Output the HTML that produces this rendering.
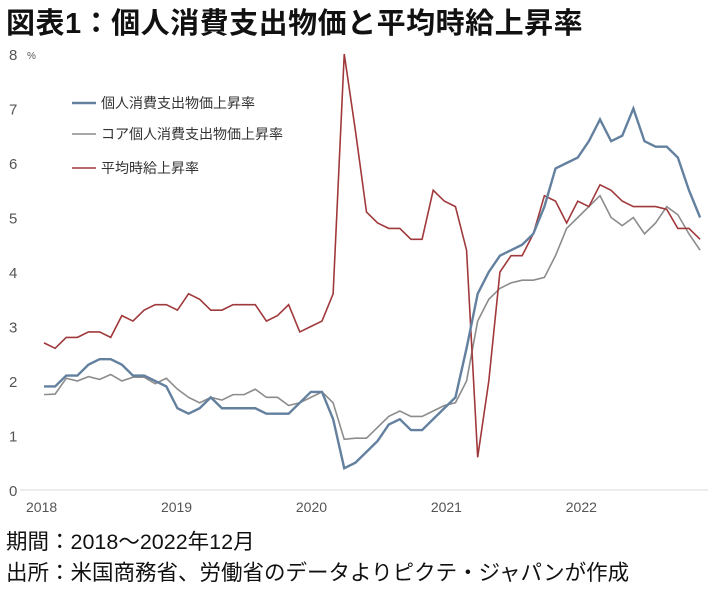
<!DOCTYPE html>
<html><head><meta charset="utf-8">
<style>
body{margin:0;background:#fff;width:728px;height:591px;overflow:hidden;font-family:"Liberation Sans","Noto Sans CJK JP",sans-serif;}
#title{position:absolute;left:6px;top:0px;font-size:29px;font-weight:bold;color:#111;letter-spacing:0.5px;}
.foot{position:absolute;left:6px;font-size:21.5px;color:#111;}
svg{position:absolute;left:0;top:0;}
</style></head><body>
<div id="title">図表1：個人消費支出物価と平均時給上昇率</div>
<svg id="chart" width="728" height="591"></svg>
<div class="foot" style="top:525px">期間：2018～2022年12月</div>
<div class="foot" style="top:556px">出所：米国商務省、労働省のデータよりピクテ・ジャパンが作成</div>
<script>
const yTicks=[0,1,2,3,4,5,6,7,8];
const xTickLabels=["2018","2019","2020","2021","2022"];
const seriesNames=["個人消費支出物価上昇率","コア個人消費支出物価上昇率","平均時給上昇率"];
const pce=[1.9,1.9,2.1,2.1,2.3,2.4,2.4,2.3,2.1,2.1,2.0,1.9,
1.5,1.4,1.5,1.7,1.5,1.5,1.5,1.5,1.4,1.4,1.4,1.6,
1.8,1.8,1.3,0.4,0.5,0.7,0.9,1.2,1.3,1.1,1.1,1.3,
1.5,1.7,2.6,3.6,4.0,4.3,4.4,4.5,4.7,5.2,5.9,6.0,
6.1,6.4,6.8,6.4,6.5,7.0,6.4,6.3,6.3,6.1,5.5,5.0];
const corePce=[1.75,1.76,2.05,2.0,2.08,2.03,2.12,2.0,2.07,2.07,1.95,2.05,
1.85,1.7,1.6,1.7,1.65,1.75,1.75,1.85,1.7,1.7,1.55,1.6,
1.7,1.8,1.6,0.93,0.95,0.95,1.15,1.35,1.45,1.35,1.35,1.45,
1.55,1.6,2.0,3.1,3.5,3.7,3.8,3.85,3.85,3.9,4.3,4.8,
5.0,5.2,5.4,5.0,4.85,5.0,4.7,4.9,5.2,5.05,4.7,4.4];
const wages=[2.7,2.6,2.8,2.8,2.9,2.9,2.8,3.2,3.1,3.3,3.4,3.4,
3.3,3.6,3.5,3.3,3.3,3.4,3.4,3.4,3.1,3.2,3.4,2.9,
3.0,3.1,3.6,8.0,6.6,5.1,4.9,4.8,4.8,4.6,4.6,5.5,
5.3,5.2,4.4,0.6,2.0,4.0,4.3,4.3,4.7,5.4,5.3,4.9,
5.3,5.2,5.6,5.5,5.3,5.2,5.2,5.2,5.15,4.8,4.8,4.6];
const NS="http://www.w3.org/2000/svg";
const svg=document.getElementById('chart');
const x0=44,dx=11.12,yb=490,ys=54.5;
function X(i){return x0+i*dx;}
function Y(v){return yb-v*ys;}
function mk(t,a){const e=document.createElementNS(NS,t);for(const k in a)e.setAttribute(k,a[k]);svg.appendChild(e);return e;}
let ax=mk('line',{x1:20,x2:708,y1:yb,y2:yb,stroke:'#e6e6e6','stroke-width':1.5});


yTicks.forEach(v=>{const t=mk('text',{x:9,y:Y(v)+6,'font-size':15,fill:'#555','font-family':'Liberation Sans'});t.textContent=v;

});
let u=mk('text',{x:27,y:Y(8)+5,'font-size':10,fill:'#555'});u.textContent='%';


xTickLabels.forEach((l,k)=>{const t=mk('text',{x:X(k*12)-18+(k*1.5),y:512,'font-size':14,fill:'#555'});t.textContent=l;

});
function line(d,c,w,n){const p=mk('polyline',{points:d.map((v,i)=>X(i)+','+Y(v)).join(' '),fill:'none',stroke:c,'stroke-width':w,'stroke-linejoin':'miter'});

}
line(corePce,'#8c8c8c',1.6,'core-pce-line');
line(wages,'#a0393c',1.6,'wage-line');
line(pce,'#63809f',2.4,'pce-line');
const cols=['#63809f','#8c8c8c','#a0393c'];const ly=[103,134,168];
seriesNames.forEach((n,k)=>{const l=mk('line',{x1:72,x2:96,y1:ly[k],y2:ly[k],stroke:cols[k],'stroke-width':k==0?2.4:1.6});


const t=mk('text',{x:101,y:ly[k]+5,'font-size':14,fill:'#333','font-family':'Liberation Sans, Noto Sans CJK JP, sans-serif'});t.textContent=n;

});
</script>
</body></html>
